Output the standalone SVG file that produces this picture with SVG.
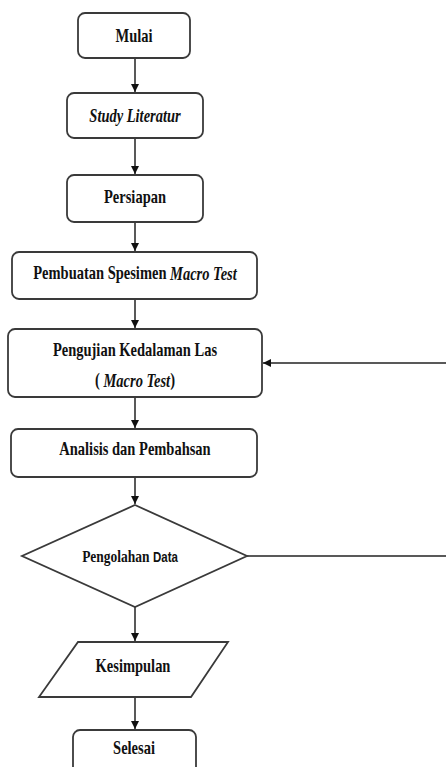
<svg xmlns="http://www.w3.org/2000/svg" width="446" height="767" viewBox="0 0 446 767">
<style>
.box{fill:#fff;stroke:#3a3a3a;stroke-width:1.8}
.t{font-family:"Liberation Serif","Times New Roman",serif;font-weight:bold;font-size:14.5px;fill:#111;text-anchor:middle;dominant-baseline:central}
.i{font-style:italic}
.ln{fill:none;stroke:#222;stroke-width:1.5}
</style>
<defs>
<marker id="ah" viewBox="0 0 10 10" refX="10" refY="5" markerWidth="8" markerHeight="8" markerUnits="userSpaceOnUse" orient="auto">
<path d="M0,0 L10,5 L0,10 Z" fill="#111"/>
</marker>
</defs>
<rect width="446" height="767" fill="#fff"/>
<g id="connectors">
<line class="ln" x1="135" y1="58" x2="135" y2="92" marker-end="url(#ah)"/>
<line class="ln" x1="135" y1="138" x2="135" y2="174" marker-end="url(#ah)"/>
<line class="ln" x1="135" y1="222" x2="135" y2="251" marker-end="url(#ah)"/>
<line class="ln" x1="135" y1="299" x2="135" y2="328" marker-end="url(#ah)"/>
<line class="ln" x1="135" y1="397" x2="135" y2="428" marker-end="url(#ah)"/>
<line class="ln" x1="135" y1="477" x2="135" y2="504" marker-end="url(#ah)"/>
<line class="ln" x1="135" y1="607" x2="135" y2="641" marker-end="url(#ah)"/>
<line class="ln" x1="135" y1="697" x2="135" y2="729" marker-end="url(#ah)"/>
<line class="ln" x1="247" y1="556" x2="446" y2="556"/>
<line class="ln" x1="446" y1="363" x2="263" y2="363" marker-end="url(#ah)"/>
</g>
<g id="mulai">
<rect class="box" x="78" y="13" width="112" height="45" rx="7"/>
<text class="t" transform="translate(134,36) scale(1,1.3)">Mulai</text>
</g>
<g id="study">
<rect class="box" x="67" y="93" width="136" height="45" rx="7"/>
<text class="t i" transform="translate(135,116) scale(1,1.3)">Study Literatur</text>
</g>
<g id="persiapan">
<rect class="box" x="67" y="175" width="136" height="47" rx="7"/>
<text class="t" transform="translate(135,197) scale(1,1.3)">Persiapan</text>
</g>
<g id="pembuatan">
<rect class="box" x="12" y="252" width="245" height="47" rx="7"/>
<text class="t" transform="translate(135,273) scale(1,1.3)">Pembuatan Spesimen <tspan class="i">Macro Test</tspan></text>
</g>
<g id="pengujian">
<rect class="box" x="8" y="329" width="254" height="68" rx="7"/>
<text class="t" transform="translate(135,350) scale(1,1.3)">Pengujian Kedalaman Las</text>
<text class="t" transform="translate(135,380) scale(1,1.3)">( <tspan class="i">Macro Test</tspan>)</text>
</g>
<g id="analisis">
<rect class="box" x="11" y="429" width="246" height="48" rx="7"/>
<text class="t" transform="translate(135,449) scale(1,1.3)">Analisis dan Pembahsan</text>
</g>
<g id="pengolahan">
<polygon class="box" points="135,505 247,556 135,607 22,556"/>
<text class="t" transform="translate(130,556) scale(1,1.3)" style="font-size:13.5px">Pengolahan <tspan style="font-family:'Liberation Sans',Arial,sans-serif;font-size:11.5px">Data</tspan></text>
</g>
<g id="kesimpulan">
<polygon class="box" points="78,642 228,642 191,697 39,697"/>
<text class="t" transform="translate(133,666) scale(1,1.3)">Kesimpulan</text>
</g>
<g id="selesai">
<rect class="box" x="73" y="730" width="123" height="45" rx="7"/>
<text class="t" transform="translate(134,748) scale(1,1.3)">Selesai</text>
</g>
</svg>
